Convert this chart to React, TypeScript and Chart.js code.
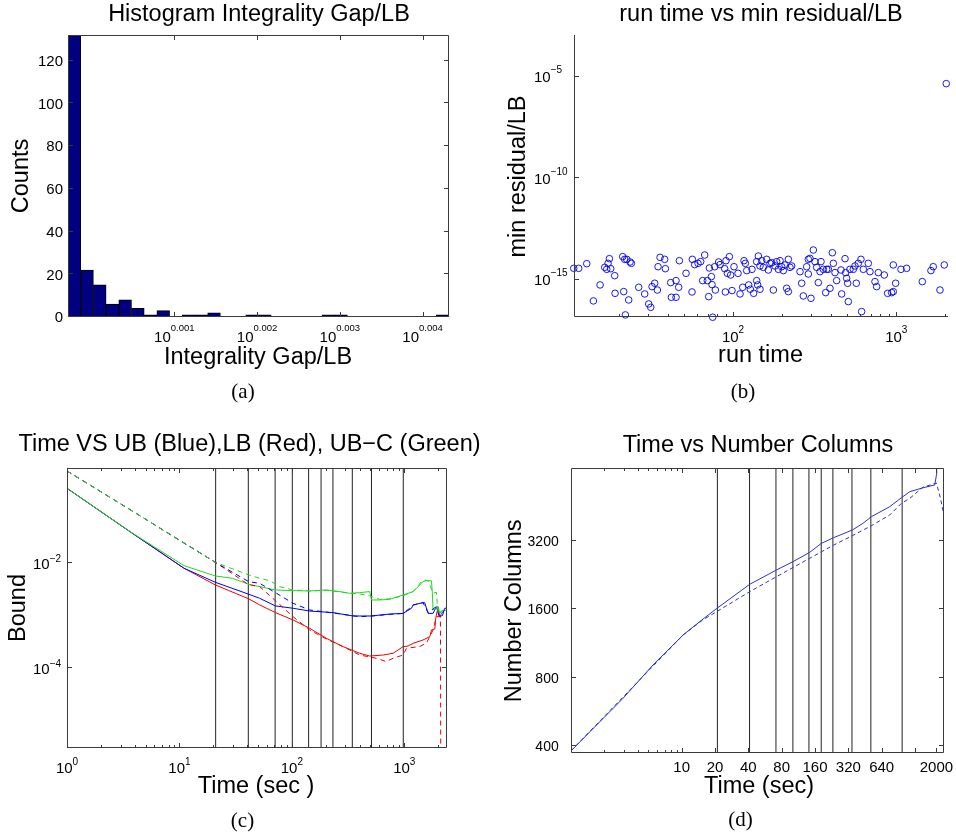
import React, { useEffect, useRef } from "react";
import { Chart, registerables } from "chart.js";
Chart.register(...registerables);

const SANS = '"Liberation Sans", Arial, Helvetica, sans-serif';
const SERIF = '"Liberation Serif", "Times New Roman", Times, serif';
const AXIS_COLOR = "#3a3a3a";
const LABEL_SIZE = 23.5;

// ---------------- (a) histogram ----------------
const gapCounts = [132, 22, 15, 6, 8, 4, 1, 3, 0, 1, 1, 2, 0, 0, 1, 1, 0, 0, 0, 0, 1, 1, 0, 0, 0, 0, 0, 0, 0, 1];
const gapBinLabels = gapCounts.map((_, i) => `bin ${i + 1}`);
const gapTickExps = [0.001, 0.002, 0.003, 0.004];
const countTicks = [0, 20, 40, 60, 80, 100, 120];
const GAP_MIN = 0.000003;
const GAP_MAX = 0.004032;
const COUNT_MAX = 132;

// ---------------- (b) scatter: [run time, min residual/LB] ----------------
const runTimeResidual: [number, number][] = [
  [10.58, 3.75e-15], [11.35, 3.75e-15], [12.71, 6.35e-15], [13.96, 9.3e-17], [15.34, 5.7e-16],
  [16.38, 4.2e-15], [16.85, 3.35e-15], [17.17, 6.6e-15], [17.5, 1.12e-14], [17.82, 3.6e-15],
  [18.86, 1.63e-15], [18.95, 2.2e-16], [21.11, 1.41e-14], [21.41, 2.67e-16], [21.71, 1.04e-14],
  [21.92, 1.9e-17], [22.34, 1.04e-14], [22.97, 1.04e-16], [23.41, 7.7e-15], [23.85, 6.6e-15],
  [26.45, 4.36e-16], [28.79, 2.05e-16], [30.46, 6.6e-17], [31.33, 4.5e-17], [31.92, 4.7e-16],
  [33.14, 6.9e-16], [34.41, 3.2e-16], [34.74, 4.5e-15], [35.74, 1.3e-14], [38.15, 1.04e-14],
  [38.52, 3.6e-15], [41.53, 7.4e-16], [41.92, 1.4e-16], [44.77, 9.3e-16], [44.77, 1.4e-16],
  [46.48, 4.36e-16], [46.92, 8.9e-15], [51.55, 2.13e-15], [56.1, 2.57e-16], [56.36, 1.04e-14],
  [58.24, 5.7e-15], [61.05, 6.6e-15], [63.39, 8.0e-15], [65.2, 9.3e-16], [67.06, 1.7e-14],
  [69.63, 9.3e-16], [70.96, 1.51e-16], [71.63, 3.9e-15], [73.68, 1.46e-15], [74.37, 5.9e-16],
  [75.07, 1.46e-17], [77.22, 4.5e-15], [77.94, 3.2e-16], [81.69, 7.7e-15], [83.24, 5.7e-15],
  [88.92, 3.6e-15], [89.76, 2.57e-16], [90.6, 8.9e-15], [92.32, 2.13e-15], [94.97, 1.41e-14],
  [96.76, 1.76e-15], [98.6, 3.0e-16], [101.4, 4.5e-15], [107.3, 2.13e-15], [110.4, 2.05e-16],
  [114.6, 4.36e-16], [116.8, 8.9e-15], [119.0, 6.6e-15], [121.3, 2.9e-15], [124.7, 5.7e-16],
  [127.6, 3.5e-16], [130.7, 3.35e-15], [133.8, 2.2e-16],
  [139.6, 8.0e-15], [142.9, 1.51e-14], [146.3, 4.9e-15], [149.8, 8.9e-15], [153.4, 4.2e-15],
  [160.7, 1.04e-14], [164.5, 3.1e-15], [168.4, 6.6e-15], [139.6, 9.3e-16], [146.3, 3.5e-16],
  [141.6, 5.7e-16], [172.5, 7.1e-15], [176.6, 3.2e-16], [180.8, 4.9e-15], [185.1, 8.0e-15],
  [189.5, 3.35e-15], [194.0, 8.9e-15], [198.6, 4.5e-15], [203.3, 2.9e-15], [208.2, 5.5e-15],
  [213.1, 3.9e-16], [218.2, 1.04e-14], [218.2, 2.67e-16], [223.4, 4.2e-15], [228.7, 4.9e-15],
  [257.2, 2.57e-15], [263.3, 6.9e-16], [269.5, 1.63e-16], [282.5, 4.5e-15], [289.2, 1.04e-14],
  [289.2, 1.97e-15], [296.0, 1.16e-14], [300.2, 1.25e-16], [310.3, 2.99e-14], [317.7, 8.0e-15],
  [325.2, 4.2e-15], [333.0, 7.4e-16], [341.0, 2.57e-15], [345.8, 8.0e-15], [357.4, 3.35e-15],
  [369.3, 2.38e-16], [374.6, 3.35e-15], [383.5, 3.35e-15], [392.6, 3.9e-16], [405.7, 2.2e-14],
  [411.5, 6.6e-15], [421.3, 2.3e-15], [431.1, 9.3e-16], [458.4, 3.1e-15], [462.8, 2.05e-16],
  [485.1, 1.12e-14], [489.6, 2.3e-15], [496.5, 1.21e-15], [503.5, 6.9e-16], [508.3, 8.6e-17],
  [520.3, 3.35e-15], [545.4, 3.35e-15], [558.3, 4.9e-15], [568.9, 6.9e-16], [585.1, 6.6e-15],
  [607.5, 1.04e-14], [613.3, 2.77e-17], [628.1, 3.35e-15], [673.9, 6.6e-15], [690.0, 2.57e-15],
  [740.4, 8.3e-16], [758.0, 4.7e-16], [776.0, 2.3e-15], [844.3, 1.76e-15], [884.9, 2.2e-16],
  [936.3, 2.38e-16], [958.6, 2.67e-16], [958.6, 5.5e-15], [990.6, 6.9e-16], [1068, 3.35e-15],
  [1157, 3.75e-15], [1443, 8.3e-16], [1630, 2.9e-15], [1684, 4.5e-15], [1851, 3.2e-16],
  [1967, 5.5e-15], [2023, 4.7e-6],
];
const RT_MIN = 10.62, RT_MAX = 2073, RES_MIN = 1.5e-17, RES_MAX = 1.17e-3;

// ---------------- (c) bounds vs time: [time, bound] ----------------
const ubSolid: [number, number][] = [
  [1, 0.268], [3.82, 0.0372], [11, 0.00803], [20.9, 0.00434], [41.4, 0.00257], [51.8, 0.00215],
  [71.5, 0.00154], [102.6, 0.00139], [144.3, 0.00123], [232.6, 0.00115], [351, 0.00099], [511, 0.00099],
  [600, 0.00103], [743, 0.00108], [977, 0.00111], [1159, 0.00139], [1199, 0.00161], [1469, 0.00178],
  [1520, 0.00178], [1630, 0.00111], [1803, 0.00111], [1933, 0.00149], [2043, 0.00096], [2185, 0.00101],
  [2291, 0.00139], [2400, 0.0014],
];
const lbSolid: [number, number][] = [
  [1, 0.268], [3.82, 0.0372], [11, 0.00803], [20.9, 0.00386], [41.4, 0.0021], [51.8, 0.00161],
  [71.5, 0.00115], [102.6, 0.00083], [144.3, 0.000577], [203, 0.000372], [286, 0.000258], [402, 0.000193],
  [493, 0.000171], [649, 0.000179], [795, 0.000193], [977, 0.000258], [1081, 0.000265], [1199, 0.000299],
  [1469, 0.000346], [1688, 0.0004], [1745, 0.000537], [1870, 0.00056], [1905, 0.000896], [1999, 0.00149],
  [2068, 0.00096], [2150, 0.0011],
];
const ubcSolid: [number, number][] = [
  [1, 0.268], [3.82, 0.0375], [11, 0.009], [20.9, 0.00573], [29.6, 0.00518], [41.4, 0.00398],
  [51.8, 0.00359], [71.5, 0.0031], [102.6, 0.00301], [144.3, 0.00297], [203, 0.0031], [267, 0.00289],
  [327, 0.00268], [402, 0.00276], [493, 0.00289], [511, 0.002], [606, 0.002], [743, 0.00206],
  [977, 0.00249], [1199, 0.00289], [1469, 0.00446], [1574, 0.00465], [1745, 0.00465], [1779, 0.00268],
  [1803, 0.00129], [1999, 0.00149], [2068, 0.00111], [2185, 0.00127], [2291, 0.00127], [2400, 0.0013],
];
const ubDashed: [number, number][] = [
  [1, 0.573], [4.69, 0.0752], [20.9, 0.0104], [41.4, 0.00446], [51.8, 0.00415], [73, 0.00268],
  [102.6, 0.00173], [144.3, 0.00129], [232.6, 0.00113], [402, 0.00096], [511, 0.00099], [743, 0.00106],
  [977, 0.00111], [1119, 0.00139], [1199, 0.0016], [1469, 0.00178], [1630, 0.00115], [1933, 0.0015],
  [2043, 0.001], [2291, 0.0013],
];
const lbDashed: [number, number][] = [
  [1, 0.573], [4.69, 0.0752], [20.9, 0.0104], [41.4, 0.0039], [51.8, 0.00359], [73, 0.00186],
  [102.6, 0.00096], [144.3, 0.000537], [203, 0.00036], [286, 0.000258], [402, 0.000179], [565, 0.000155],
  [693, 0.000134], [795, 0.000155], [977, 0.000179], [1045, 0.00024], [1374, 0.00026], [1574, 0.0003],
  [1803, 0.000537], [1933, 0.00096], [2099, 0.00096], [2110, 2.5e-6],
];
const ubcDashed: [number, number][] = [
  [1, 0.573], [4.69, 0.0752], [20.9, 0.0104], [41.4, 0.006], [51.8, 0.00517], [63.6, 0.00465],
  [78, 0.00359], [102.6, 0.0031], [144.3, 0.00297], [203, 0.00305], [267, 0.00285], [327, 0.0027],
  [402, 0.0026], [493, 0.0024], [606, 0.00205], [743, 0.0021], [977, 0.0024], [1199, 0.0029],
  [1469, 0.0048], [1630, 0.0047], [1803, 0.0027], [1933, 0.0028], [1999, 0.00105], [2100, 0.0012],
  [2291, 0.0013],
];
const switchTimes = [21, 41, 71, 101, 141, 182, 232, 345, 511, 980];
const C_TMIN = 1, C_TMAX = 2400, C_BMIN = 3.03e-6, C_BMAX = 0.653;

// ---------------- (d) number of columns: [time, columns] ----------------
const columnsSolid: [number, number][] = [
  [1, 380], [2.95, 648], [5.5, 909], [10.3, 1233], [15.6, 1450], [20.8, 1615], [41.1, 2061],
  [71.7, 2384], [101.3, 2595], [143.3, 2852], [182.8, 3125], [236, 3311], [348, 3578], [434, 3830],
  [517, 4096], [756, 4532], [965, 4966], [1148, 5279], [1514, 5495], [1929, 5648], [2000, 6253], [2010, 7200],
];
const columnsDashed: [number, number][] = [
  [1, 380], [10.3, 1233], [15.6, 1440], [20.8, 1564], [41.1, 1913], [71.7, 2227], [143.3, 2685],
  [236, 3071], [348, 3377], [517, 3738], [756, 4166], [965, 4691], [1148, 4934], [1514, 5530],
  [2000, 5762], [2173, 4934], [2340, 4166],
];
const dTimeTicks = [10, 20, 40, 80, 160, 320, 640, 1280, 2000];
const dTimeLabels = [10, 20, 40, 80, 160, 320, 640, 2000];
const dColTicks = [400, 800, 1600, 3200];
const D_TMIN = 1, D_TMAX = 2340, D_CMIN = 372, D_CMAX = 6714;

const decadeMinor = (lo: number, hi: number) => {
  const out: number[] = [];
  for (let d = Math.pow(10, Math.floor(Math.log10(lo))); d <= hi; d *= 10) {
    for (let k = 2; k <= 9; k++) {
      const v = k * d;
      if (v >= lo && v <= hi) out.push(v);
    }
  }
  return out;
};

type TickLabel = { v: number; base: string; exp?: string };
interface Decor {
  title: string; titleX: number; titleY: number;
  xLabel: string; xLabelX: number; xLabelY: number;
  yLabel: string; yLabelX: number; yLabelY: number;
  xScale: string; yScale: string; box: boolean;
  xMajor: number[]; xMinor: number[]; yMajor: number[];
  xTicks: TickLabel[]; xTickBaseline: number; xExpRaise: number;
  yTicks: TickLabel[]; yTickMode: "right" | "baseLeft"; yTickX: number; yExpRaise: number;
  tickSize: number; expSize: number; yTickSize?: number;
}

function decorPlugin(d: Decor) {
  return {
    id: "matlabDecor",
    afterDraw(chart: any) {
      const ctx: CanvasRenderingContext2D = chart.ctx;
      const a = chart.chartArea;
      const xs = chart.scales[d.xScale];
      const ys = chart.scales[d.yScale];
      const L = Math.round(a.left), R = Math.round(a.right), T = Math.round(a.top), B = Math.round(a.bottom);
      ctx.save();
      ctx.strokeStyle = AXIS_COLOR;
      ctx.lineWidth = 1;
      ctx.setLineDash([]);
      ctx.beginPath();
      if (d.box) {
        ctx.rect(L + 0.5, T + 0.5, R - L - 1, B - T - 1);
      } else {
        ctx.moveTo(L + 0.5, T);
        ctx.lineTo(L + 0.5, B - 0.5);
        ctx.lineTo(R, B - 0.5);
      }
      const xt = (vals: number[], len: number) => {
        for (const v of vals) {
          const p = xs.getPixelForValue(v);
          if (p < L - 0.5 || p > R + 0.5) continue;
          const x = Math.round(p) + 0.5;
          ctx.moveTo(x, B); ctx.lineTo(x, B - len);
          if (d.box) { ctx.moveTo(x, T); ctx.lineTo(x, T + len); }
        }
      };
      xt(d.xMajor, 5);
      xt(d.xMinor, 3);
      for (const v of d.yMajor) {
        const p = ys.getPixelForValue(v);
        if (p < T - 0.5 || p > B + 0.5) continue;
        const y = Math.round(p) - 0.5;
        ctx.moveTo(L, y); ctx.lineTo(L + 5, y);
        if (d.box) { ctx.moveTo(R, y); ctx.lineTo(R - 5, y); }
      }
      ctx.stroke();

      const font = (s: number) => `${s}px ${SANS}`;
      ctx.fillStyle = "#000";
      ctx.textBaseline = "alphabetic";
      ctx.textAlign = "left";
      for (const t of d.xTicks) {
        const cx = xs.getPixelForValue(t.v);
        ctx.font = font(d.tickSize);
        const wb = ctx.measureText(t.base).width;
        let we = 0;
        if (t.exp) { ctx.font = font(d.expSize); we = ctx.measureText(t.exp).width; }
        const sx = cx - (wb + we) / 2;
        ctx.font = font(d.tickSize);
        ctx.fillText(t.base, sx, d.xTickBaseline);
        if (t.exp) { ctx.font = font(d.expSize); ctx.fillText(t.exp, sx + wb, d.xTickBaseline - d.xExpRaise); }
      }
      const yts = d.yTickSize ?? d.tickSize;
      for (const t of d.yTicks) {
        const cy = ys.getPixelForValue(t.v);
        const bl = cy + yts * 0.36;
        ctx.font = font(yts);
        const wb = ctx.measureText(t.base).width;
        let we = 0;
        if (t.exp) { ctx.font = font(d.expSize); we = ctx.measureText(t.exp).width; }
        const sx = d.yTickMode === "right" ? d.yTickX - wb - we : d.yTickX;
        ctx.font = font(yts);
        ctx.fillText(t.base, sx, bl);
        if (t.exp) { ctx.font = font(d.expSize); ctx.fillText(t.exp, sx + wb, bl - d.yExpRaise); }
      }
      ctx.font = font(LABEL_SIZE);
      ctx.textAlign = "center";
      ctx.fillText(d.title, d.titleX, d.titleY);
      ctx.fillText(d.xLabel, d.xLabelX, d.xLabelY);
      ctx.translate(d.yLabelX, d.yLabelY);
      ctx.rotate(-Math.PI / 2);
      ctx.fillText(d.yLabel, 0, 0);
      ctx.restore();
    },
  };
}

const baseOptions = (padding: any) => ({
  responsive: false,
  animation: false as const,
  events: [] as any[],
  layout: { padding },
  plugins: { legend: { display: false }, tooltip: { enabled: false }, title: { display: false } },
});

const pts = (arr: [number, number][]) => arr.map(([x, y]) => ({ x, y }));

function configA(): any {
  return {
    type: "bar",
    data: {
      labels: gapBinLabels,
      datasets: [{
        data: gapCounts, backgroundColor: "#000080", borderColor: "#000000", borderWidth: 1,
        barPercentage: 1, categoryPercentage: 1,
      }],
    },
    options: {
      ...baseOptions({ left: 68, top: 35, right: 29, bottom: 101 }),
      scales: {
        x: { type: "category", display: false, offset: true },
        xv: { type: "linear", axis: "x", position: "bottom", display: false, min: GAP_MIN, max: GAP_MAX },
        y: { type: "linear", display: false, min: 0, max: COUNT_MAX },
      },
    },
    plugins: [decorPlugin({
      title: "Histogram Integrality Gap/LB", titleX: 259, titleY: 21,
      xLabel: "Integrality Gap/LB", xLabelX: 258, xLabelY: 363.5,
      yLabel: "Counts", yLabelX: 28, yLabelY: 176,
      xScale: "xv", yScale: "y", box: true,
      xMajor: gapTickExps, xMinor: [], yMajor: countTicks,
      xTicks: gapTickExps.map((v) => ({ v, base: "10", exp: String(v) })), xTickBaseline: 342, xExpRaise: 11,
      yTicks: countTicks.map((v) => ({ v, base: String(v) })), yTickMode: "right", yTickX: 63, yExpRaise: 0,
      tickSize: 15, expSize: 9.5,
    })],
  };
}

function configB(): any {
  return {
    type: "scatter",
    data: {
      datasets: [{
        data: pts(runTimeResidual), pointStyle: "circle", pointRadius: 3.3, borderWidth: 1,
        borderColor: "rgba(0,0,235,0.9)", backgroundColor: "rgba(0,0,0,0)", clip: false,
      }],
    },
    options: {
      ...baseOptions({ left: 96, top: 35, right: 8, bottom: 101 }),
      scales: {
        x: { type: "logarithmic", display: false, min: RT_MIN, max: RT_MAX },
        y: { type: "logarithmic", display: false, min: RES_MIN, max: RES_MAX },
      },
    },
    plugins: [decorPlugin({
      title: "run time vs min residual/LB", titleX: 283, titleY: 21,
      xLabel: "run time", xLabelX: 282.5, xLabelY: 362,
      yLabel: "min residual/LB", yLabelX: 46.5, yLabelY: 176.5,
      xScale: "x", yScale: "y", box: false,
      xMajor: [100, 1000], xMinor: decadeMinor(RT_MIN, RT_MAX), yMajor: [1e-5, 1e-10, 1e-15],
      xTicks: [{ v: 100, base: "10", exp: "2" }, { v: 1000, base: "10", exp: "3" }], xTickBaseline: 342, xExpRaise: 9,
      yTicks: [
        { v: 1e-5, base: "10", exp: "\u22125" },
        { v: 1e-10, base: "10", exp: "\u221210" },
        { v: 1e-15, base: "10", exp: "\u221215" },
      ], yTickMode: "baseLeft", yTickX: 56, yExpRaise: 9,
      tickSize: 15, expSize: 10,
    })],
  };
}

function configC(): any {
  const line = (arr: [number, number][], color: string, dashed: boolean) => ({
    data: pts(arr), borderColor: color, borderWidth: 1, pointRadius: 0, fill: false, tension: 0,
    borderDash: dashed ? [5, 4] : [],
  });
  const BLUE = "#0000ee", RED = "#ee0000", GREEN = "#1fd81f";
  return {
    type: "line",
    data: {
      datasets: [
        line(ubcDashed, GREEN, true), line(ubDashed, BLUE, true), line(lbDashed, RED, true),
        line(ubcSolid, GREEN, false), line(ubSolid, BLUE, false), line(lbSolid, RED, false),
        ...switchTimes.map((t) => ({
          data: [{ x: t, y: C_BMIN }, { x: t, y: C_BMAX }], borderColor: "#222", borderWidth: 1, pointRadius: 0,
        })),
      ],
    },
    options: {
      ...baseOptions({ left: 67, top: 50, right: 53, bottom: 89 }),
      scales: {
        x: { type: "logarithmic", display: false, min: C_TMIN, max: C_TMAX },
        y: { type: "logarithmic", display: false, min: C_BMIN, max: C_BMAX },
      },
    },
    plugins: [decorPlugin({
      title: "Time VS UB (Blue),LB (Red), UB\u2212C (Green)", titleX: 249.5, titleY: 33,
      xLabel: "Time (sec )", xLabelX: 256, xLabelY: 375,
      yLabel: "Bound", yLabelX: 25, yLabelY: 190,
      xScale: "x", yScale: "y", box: true,
      xMajor: [1, 10, 100, 1000], xMinor: decadeMinor(C_TMIN, C_TMAX), yMajor: [1e-2, 1e-4],
      xTicks: [
        { v: 1, base: "10", exp: "0" }, { v: 10, base: "10", exp: "1" },
        { v: 100, base: "10", exp: "2" }, { v: 1000, base: "10", exp: "3" },
      ], xTickBaseline: 354.7, xExpRaise: 8,
      yTicks: [{ v: 1e-2, base: "10", exp: "\u22122" }, { v: 1e-4, base: "10", exp: "\u22124" }],
      yTickMode: "baseLeft", yTickX: 33, yExpRaise: 7,
      tickSize: 15, expSize: 10,
    })],
  };
}

function configD(): any {
  const COL = "#3030cc";
  return {
    type: "line",
    data: {
      datasets: [
        { data: pts(columnsSolid), borderColor: COL, borderWidth: 1, pointRadius: 0, tension: 0 },
        { data: pts(columnsDashed), borderColor: COL, borderWidth: 1, pointRadius: 0, tension: 0, borderDash: [4, 3] },
        ...switchTimes.map((t) => ({
          data: [{ x: t, y: D_CMIN }, { x: t, y: D_CMAX }], borderColor: "#222", borderWidth: 1, pointRadius: 0,
        })),
      ],
    },
    options: {
      ...baseOptions({ left: 93, top: 50, right: 12, bottom: 84 }),
      scales: {
        x: { type: "logarithmic", display: false, min: D_TMIN, max: D_TMAX },
        y: { type: "logarithmic", display: false, min: D_CMIN, max: D_CMAX },
      },
    },
    plugins: [decorPlugin({
      title: "Time vs Number Columns", titleX: 280, titleY: 33.7,
      xLabel: "Time (sec)", xLabelX: 281, xLabelY: 375,
      yLabel: "Number Columns", yLabelX: 43.3, yLabelY: 192.8,
      xScale: "x", yScale: "y", box: true,
      xMajor: dTimeTicks, xMinor: decadeMinor(1, 9), yMajor: dColTicks,
      xTicks: dTimeLabels.map((v) => ({ v, base: String(v) })), xTickBaseline: 354, xExpRaise: 0,
      yTicks: dColTicks.map((v) => ({ v, base: String(v) })), yTickMode: "right", yTickX: 80.7, yExpRaise: 0,
      tickSize: 15, expSize: 10, yTickSize: 14,
    })],
  };
}

function Panel(props: { make: () => any; left: number; top: number; width: number; height: number }) {
  const ref = useRef<HTMLCanvasElement>(null);
  useEffect(() => {
    const chart = new Chart(ref.current as HTMLCanvasElement, props.make());
    return () => chart.destroy();
  }, []);
  return (
    <canvas
      ref={ref}
      width={props.width}
      height={props.height}
      style={{ position: "absolute", left: props.left, top: props.top, width: props.width, height: props.height }}
    />
  );
}

function SubLabel(props: { text: string; cx: number; cy: number }) {
  return (
    <div
      style={{
        position: "absolute", left: props.cx - 30, top: props.cy - 12, width: 60, height: 24,
        lineHeight: "24px", textAlign: "center", fontFamily: SERIF, fontSize: 21, color: "#000",
      }}
    >
      {props.text}
    </div>
  );
}

export default function App() {
  return (
    <div style={{ position: "absolute", left: 0, top: 0, width: 956, height: 837, background: "#fff", overflow: "hidden" }}>
      <Panel make={configA} left={0} top={0} width={478} height={418} />
      <Panel make={configB} left={478} top={0} width={478} height={418} />
      <Panel make={configC} left={0} top={418} width={500} height={419} />
      <Panel make={configD} left={478} top={418} width={478} height={419} />
      <SubLabel text="(a)" cx={243} cy={391} />
      <SubLabel text="(b)" cx={743} cy={391} />
      <SubLabel text="(c)" cx={242.5} cy={820} />
      <SubLabel text="(d)" cx={740.5} cy={819} />
    </div>
  );
}
